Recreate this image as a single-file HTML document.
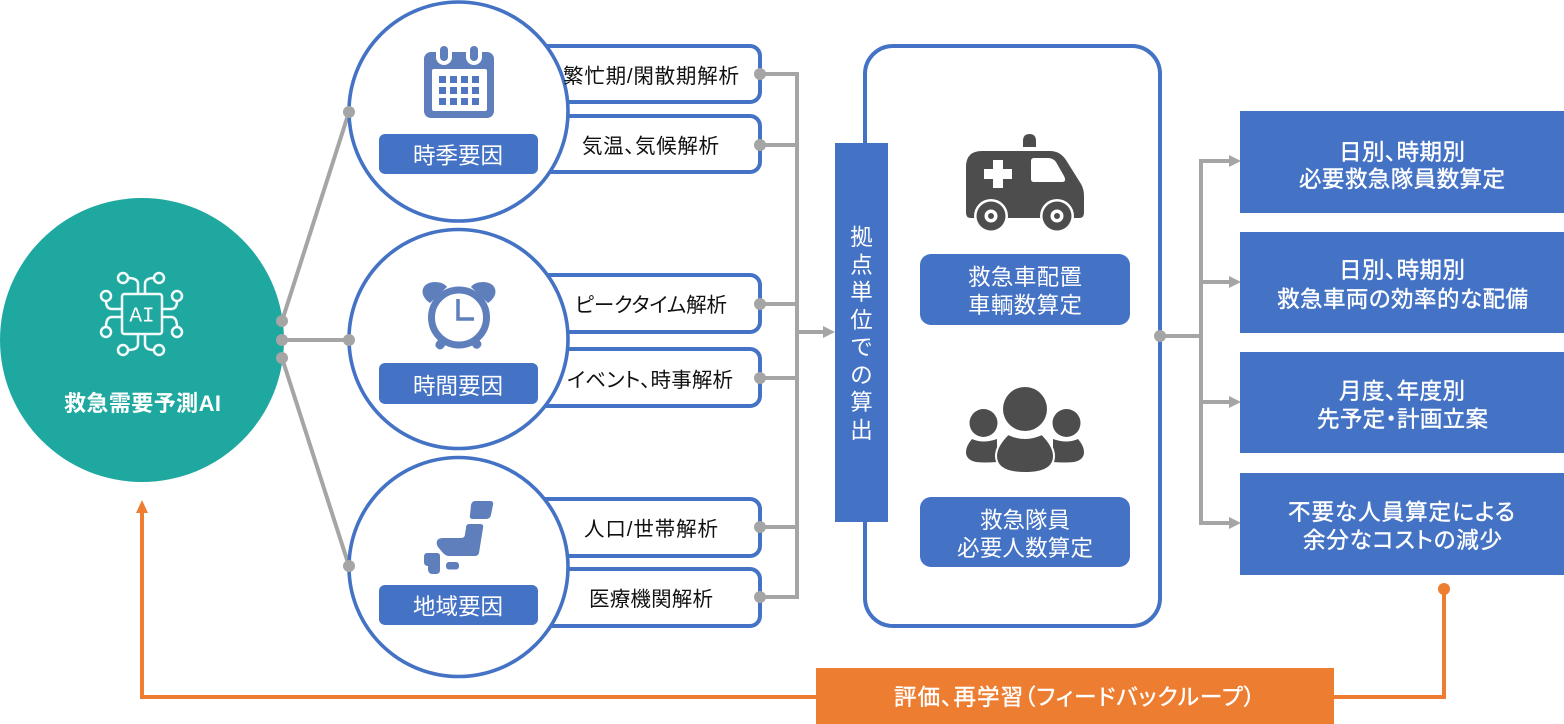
<!DOCTYPE html>
<html lang="ja"><head><meta charset="utf-8"><title>救急需要予測AI</title>
<style>
html,body{margin:0;padding:0;background:#fff;width:1564px;height:724px;overflow:hidden}
svg{display:block}
text{font-family:"Liberation Sans","Noto Sans CJK JP",sans-serif;font-feature-settings:"palt"}
.k{font-size:20.5px;fill:#111}
.w{font-size:22.5px;fill:#fff}
.m{font-size:22.5px;fill:#fff;stroke:#fff;stroke-width:.4px}
</style></head><body>
<svg width="1564" height="724" viewBox="0 0 1564 724" xmlns="http://www.w3.org/2000/svg">
<rect width="1564" height="724" fill="#fff"/>

<!-- small analysis boxes -->
<g fill="#fff" stroke="#4472C4" stroke-width="4">
<rect x="500" y="46" width="260" height="56" rx="10"/>
<rect x="500" y="116" width="260" height="56" rx="10"/>
<rect x="500" y="275" width="260" height="57" rx="10"/>
<rect x="500" y="349" width="260" height="57" rx="10"/>
<rect x="500" y="499" width="260" height="57" rx="10"/>
<rect x="500" y="569" width="260" height="57" rx="10"/>
</g>

<!-- left connectors -->
<g stroke="#A5A5A5" stroke-width="4" fill="none">
<path d="M282 321L349 112M282 340H349M282 358L349 566"/>
</g>

<!-- factor circles -->
<g fill="#fff" stroke="#4472C4" stroke-width="3.600">
<circle cx="458.500" cy="111.500" r="109.500"/>
<circle cx="458.500" cy="339" r="109.500"/>
<circle cx="458.500" cy="567" r="109.500"/>
</g>

<!-- teal circle -->
<circle cx="142" cy="340" r="142" fill="#1FA8A0"/>
<g fill="none" stroke="#fff" stroke-width="2.500" opacity=".95">
<rect x="122" y="294" width="40" height="40" rx="2.500"/>
<circle cx="123" cy="278" r="5"/><circle cx="159" cy="278" r="5"/>
<circle cx="106" cy="296" r="5"/><circle cx="177" cy="296" r="5"/>
<circle cx="106" cy="332" r="5"/><circle cx="177" cy="332" r="5"/>
<circle cx="123" cy="350" r="5"/><circle cx="159" cy="350" r="5"/>
<path d="M138 294V284Q138 278 128 278M145 294V284Q145 278 154 278"/>
<path d="M138 334V344Q138 350 128 350M145 334V344Q145 350 154 350"/>
<path d="M122 309H112Q106 309 106 301M162 309H171Q177 309 177 301"/>
<path d="M122 317H112Q106 317 106 327M162 317H171Q177 317 177 327"/>
</g>
<text x="142" y="321.500" text-anchor="middle" font-size="21" fill="#fff" style="font-family:'Liberation Mono',monospace">AI</text>
<text x="64" y="411" textLength="157" font-size="22" font-weight="700" fill="#fff">救急需要予測AI</text>

<!-- dots left -->
<g fill="#A5A5A5">
<circle cx="282" cy="321" r="6"/><circle cx="282" cy="340" r="6"/><circle cx="282" cy="358" r="6"/>
<circle cx="349" cy="112" r="6"/><circle cx="349" cy="340" r="6"/><circle cx="349" cy="566" r="6"/>
</g>

<!-- pills -->
<g fill="#4472C4">
<rect x="379" y="134" width="159" height="40" rx="6"/>
<rect x="379" y="363" width="159" height="41" rx="6"/>
<rect x="379" y="585" width="159" height="40" rx="6"/>
</g>
<text class="w" x="413" y="163.500" textLength="90">時季要因</text>
<text class="w" x="413" y="394" textLength="90">時間要因</text>
<text class="w" x="413" y="614.500" textLength="90">地域要因</text>

<!-- calendar -->
<rect x="424" y="52" width="70" height="66" rx="7" fill="#5F7FBC"/>
<rect x="432" y="69" width="55" height="42" rx="2" fill="#fff"/>
<g fill="#fff"><rect x="436" y="44" width="16" height="21" rx="8"/><rect x="466" y="44" width="16" height="21" rx="8"/></g>
<g fill="#5F7FBC"><rect x="440" y="46" width="8" height="15" rx="4"/><rect x="470" y="46" width="8" height="15" rx="4"/></g>
<g fill="#4F76BF">
<rect x="439" y="76" width="7" height="7"/><rect x="450" y="76" width="7" height="7"/><rect x="461" y="76" width="7" height="7"/><rect x="472" y="76" width="7" height="7"/>
<rect x="439" y="87" width="7" height="7"/><rect x="450" y="87" width="7" height="7"/><rect x="461" y="87" width="7" height="7"/><rect x="472" y="87" width="7" height="7"/>
<rect x="439" y="98" width="7" height="7"/><rect x="450" y="98" width="7" height="7"/><rect x="461" y="98" width="7" height="7"/><rect x="472" y="98" width="7" height="7"/>
</g>

<!-- clock -->
<g fill="#5F7FBC">
<path d="M430 303C419 296 420 283 434 282C441 282 445 284 447 287Z"/>
<path d="M488 303C499 296 498 283 484 282C477 282 473 284 471 287Z"/>
<rect x="436" y="339" width="9" height="10" rx="4" transform="rotate(40 440 344)"/>
<rect x="472" y="339" width="9" height="10" rx="4" transform="rotate(-40 476 344)"/>
</g>
<circle cx="459" cy="317.500" r="27.500" fill="#fff" stroke="#5F7FBC" stroke-width="7"/>
<path d="M458 299V319H474" fill="none" stroke="#5F7FBC" stroke-width="3.500"/>

<!-- japan -->
<g fill="#5F7FBC">
<path d="M475 501H490Q494 501 493 505L491 515Q490 519 486 519H473Q469 519 470 515L471 505Q472 501 475 501Z"/>
<path d="M469 524H480Q484 524 483 528L479 553Q478 556 475 556H449Q446 556 443 553L438 547Q436 544 437 541Q438 538 443 538H461Q465 538 465 534L466 528Q466 524 469 524Z"/>
<path d="M427 553H437Q440 553 440 556V570Q440 574 436 574H432Q429 574 428 570V566Q424 566 424 562V557Q424 553 427 553Z"/>
<rect x="446" y="562" width="13" height="7.500" rx="3"/>
</g>

<!-- box labels -->
<text class="k" x="563" y="83" textLength="176">繁忙期/閑散期解析</text>
<text class="k" x="582" y="153" textLength="137">気温、気候解析</text>
<text class="k" x="575" y="312" textLength="152">ピークタイム解析</text>
<text class="k" x="567" y="387" textLength="166">イベント、時事解析</text>
<text class="k" x="584" y="536" textLength="134">人口/世帯解析</text>
<text class="k" x="589" y="606" textLength="124">医療機関解析</text>

<!-- right of boxes connectors -->
<g stroke="#A5A5A5" stroke-width="4" fill="none">
<path d="M760 74H797V597H760M760 145H797M760 304H797M760 378H797M760 527H797M797 332H824"/>
</g>
<path d="M823 326L835 332L823 338Z" fill="#A5A5A5"/>
<g fill="#A5A5A5">
<circle cx="760" cy="74" r="6"/><circle cx="760" cy="145" r="6"/><circle cx="760" cy="304" r="6"/>
<circle cx="760" cy="378" r="6"/><circle cx="760" cy="527" r="6"/><circle cx="760" cy="597" r="6"/>
</g>

<!-- big rounded box -->
<rect x="865" y="46" width="295" height="580" rx="28" fill="#fff" stroke="#4472C4" stroke-width="4"/>
<rect x="835" y="143" width="53" height="379" fill="#4472C4"/>
<text class="w" x="861.500 861.500 861.500 861.500 861.500 861.500 861.500 861.500" y="245 273 300 328 355 383 410 438" text-anchor="middle">拠点単位での算出</text>

<!-- ambulance -->
<g fill="#4D4D4D">
<path d="M1023 147V141Q1023 134 1029.500 134Q1036 134 1036 141V147Z"/>
<path d="M982 151H1050Q1060 151 1066 160L1081 184Q1084 189 1084 196V213Q1084 218 1079 218H971Q966 218 966 213V167Q966 151 982 151Z"/>
</g>
<path d="M993 160H1003V169H1012V179H1003V188H993V179H984V169H993Z" fill="#fff"/>
<path d="M1034 158H1048Q1053 158 1056 162L1064 176Q1067 182 1062 182H1034Q1031 182 1031 179V161Q1031 158 1034 158Z" fill="#fff"/>
<rect x="966" y="218" width="118" height="8" fill="#fff"/>
<circle cx="991" cy="216" r="17" fill="#fff"/><circle cx="1057" cy="216" r="17" fill="#fff"/>
<circle cx="991" cy="216" r="14.500" fill="#4D4D4D"/><circle cx="1057" cy="216" r="14.500" fill="#4D4D4D"/>
<circle cx="991" cy="216" r="6.500" fill="#fff"/><circle cx="1057" cy="216" r="6.500" fill="#fff"/>
<circle cx="991" cy="216" r="3" fill="#4D4D4D"/><circle cx="1057" cy="216" r="3" fill="#4D4D4D"/>

<!-- people -->
<g fill="#4D4D4D">
<circle cx="1025" cy="409" r="22"/>
<circle cx="983.500" cy="423" r="14"/>
<circle cx="1066.500" cy="423" r="14"/>
<path d="M972 439Q983 444 997 439V462Q985 463 976 462Q966 460 966 452Q966 446 972 439Z"/>
<path d="M1078 439Q1067 444 1053 439V462Q1065 463 1074 462Q1084 460 1084 452Q1084 446 1078 439Z"/>
<path d="M1008 434Q1025 442 1042 434Q1054 446 1054 456Q1054 473 1025 473Q996 473 996 456Q996 446 1008 434Z" stroke="#fff" stroke-width="2"/>
</g>

<!-- center pills -->
<g fill="#4472C4">
<rect x="920" y="254" width="210" height="71" rx="11"/>
<rect x="920" y="497" width="210" height="70" rx="11"/>
</g>
<text class="w" x="968" y="285" textLength="114">救急車配置</text>
<text class="w" x="968" y="313" textLength="114">車輌数算定</text>
<text class="w" x="980" y="528" textLength="90">救急隊員</text>
<text class="w" x="957" y="556" textLength="136">必要人数算定</text>

<!-- right connectors -->
<g stroke="#A5A5A5" stroke-width="4" fill="none">
<path d="M1160 336H1201M1230 161H1201V523H1230M1201 282H1230M1201 402H1230"/>
</g>
<g fill="#A5A5A5">
<circle cx="1160" cy="336" r="6"/>
<path d="M1229 155L1241 161L1229 167Z"/><path d="M1229 276L1241 282L1229 288Z"/>
<path d="M1229 396L1241 402L1229 408Z"/><path d="M1229 517L1241 523L1229 529Z"/>
</g>

<!-- right boxes -->
<g fill="#4472C4">
<rect x="1240" y="111" width="324" height="102"/>
<rect x="1240" y="232" width="324" height="101"/>
<rect x="1240" y="352" width="324" height="101"/>
<rect x="1240" y="473" width="324" height="102"/>
</g>
<text class="m" x="1339" y="160" textLength="126">日別、時期別</text>
<text class="m" x="1299" y="187" textLength="206">必要救急隊員数算定</text>
<text class="m" x="1339" y="278" textLength="126">日別、時期別</text>
<text class="m" x="1277" y="307" textLength="251">救急車両の効率的な配備</text>
<text class="m" x="1339" y="399" textLength="126">月度、年度別</text>
<text class="m" x="1317" y="427" textLength="171">先予定・計画立案</text>
<text class="m" x="1288" y="520" textLength="227">不要な人員算定による</text>
<text class="m" x="1303" y="548" textLength="199">余分なコストの減少</text>

<!-- feedback -->
<path d="M1444 589V697H142V510" fill="none" stroke="#ED7D31" stroke-width="4"/>
<circle cx="1444" cy="589" r="6" fill="#ED7D31"/>
<path d="M136 513L142 500L148 513Z" fill="#ED7D31"/>
<rect x="816" y="668" width="518" height="56" fill="#ED7D31"/>
<text class="m" x="894" y="705" textLength="361">評価、再学習（フィードバックループ）</text>
</svg>
</body></html>
